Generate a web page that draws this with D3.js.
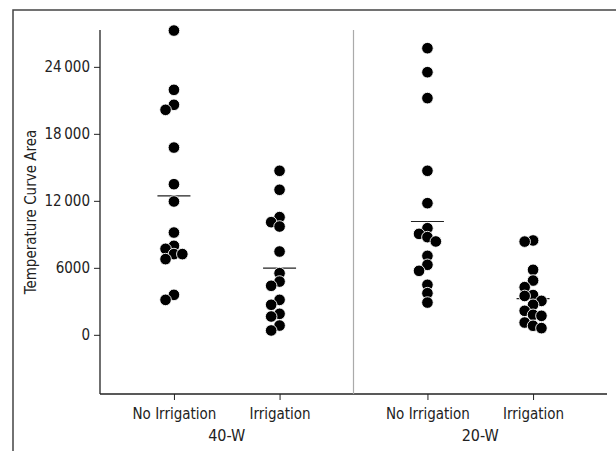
<!DOCTYPE html>
<html>
<head>
<meta charset="utf-8">
<script src="https://cdn.jsdelivr.net/npm/d3@7"></script>
<style>
  body { margin: 0; background: #fff; }
  svg { display: block; }
  text { font-family: "Liberation Sans Narrow", "DejaVu Sans Condensed", sans-serif; fill: #222; }
</style>
</head>
<body>
<svg width="616" height="451"></svg>
<script>
// data
var facets = ['40-W', '20-W'];
var treatments = ['No Irrigation', 'Irrigation'];

var noIrr40 = [27250, 21940, 20600, 20150, 16770, 13490, 11940, 9160, 7970, 7700, 7230, 7230, 6780, 3580, 3130];
var irr40 = [14690, 12990, 10540, 10090, 9700, 7460, 5520, 4770, 4390, 3130, 2690, 1880, 1640, 830, 390];
var noIrr20 = [25670, 23520, 21200, 14690, 11790, 9550, 9040, 8750, 8360, 7070, 6270, 5730, 4480, 3730, 2890];
var irr20 = [8450, 8350, 5820, 4860, 4270, 3560, 3480, 3040, 2690, 2150, 1790, 1700, 1100, 810, 600];

var groupMeans = [12450, 5970, 10150, 3250];
var yTicks = [0, 6000, 12000, 18000, 24000];
var yDomain = [-5300, 27300];

var groups = [
  {facet: '40-W', treatment: 'No Irrigation', values: noIrr40, mean: groupMeans[0]},
  {facet: '40-W', treatment: 'Irrigation', values: irr40, mean: groupMeans[1]},
  {facet: '20-W', treatment: 'No Irrigation', values: noIrr20, mean: groupMeans[2]},
  {facet: '20-W', treatment: 'Irrigation', values: irr20, mean: groupMeans[3]}
];

var svg = d3.select('svg');

// outer frame (figure is cropped from a boxed panel)
svg.append('rect')
    .attr('x', 13).attr('y', 10)
    .attr('width', 700).attr('height', 500)
    .attr('fill', 'none')
    .attr('stroke', '#444')
    .attr('stroke-width', 1.5);

var plotLeft = 100, plotRight = 607, plotTop = 30, plotBottom = 394;

var facetScale = d3.scaleBand().domain(facets).range([plotLeft, plotRight]);
var xInner = d3.scalePoint().domain(treatments).range([0, facetScale.bandwidth()]).padding(0.7);
var yScale = d3.scaleLinear().domain(yDomain).range([plotBottom, plotTop]);

function fmt(v) {
    var s = String(v);
    if (v >= 10000) s = s.slice(0, s.length - 3) + '\u2009' + s.slice(-3);
    return s;
}

// y axis
var yAxis = d3.axisLeft(yScale).tickValues(yTicks).tickFormat(fmt).tickSize(6).tickPadding(4);
var gy = svg.append('g')
    .attr('transform', 'translate(' + plotLeft + ',0)')
    .call(yAxis);
gy.select('.domain').remove();
gy.selectAll('text').style('font-size', '15px');
gy.selectAll('line').attr('stroke', '#222');

svg.append('line')
    .attr('x1', plotLeft).attr('x2', plotLeft)
    .attr('y1', plotTop).attr('y2', plotBottom)
    .attr('stroke', '#222').attr('stroke-width', 1.3);

svg.append('text')
    .text('Temperature Curve Area')
    .attr('transform', 'translate(36,' + ((plotTop + plotBottom) / 2) + ') rotate(-90)')
    .attr('text-anchor', 'middle')
    .style('font-size', '15px');

// x axis baseline
svg.append('line')
    .attr('x1', plotLeft).attr('x2', plotRight)
    .attr('y1', plotBottom).attr('y2', plotBottom)
    .attr('stroke', '#222').attr('stroke-width', 1.3);

// facet divider
svg.append('line')
    .attr('x1', facetScale('20-W')).attr('x2', facetScale('20-W'))
    .attr('y1', plotTop).attr('y2', plotBottom)
    .attr('stroke', '#aaa').attr('stroke-width', 1.2);

facets.forEach(function(f) {
    var xAxis = d3.axisBottom(xInner).tickSize(6).tickPadding(8);
    var gx = svg.append('g')
        .attr('transform', 'translate(' + facetScale(f) + ',' + plotBottom + ')')
        .call(xAxis);
    gx.select('.domain').remove();
    gx.selectAll('text').style('font-size', '15px');
    gx.selectAll('line').attr('stroke', '#222');

    svg.append('text')
        .text(f)
        .attr('x', facetScale(f) + facetScale.bandwidth() / 2)
        .attr('y', 441)
        .attr('text-anchor', 'middle')
        .style('font-size', '16px');
});

// simple swarm: push dots sideways when they would collide
function swarm(values) {
    var step = 8.4, minDist = 8.2;
    var placed = [];
    values.forEach(function(v) {
        var py = yScale(v);
        var cands = [0, -step, step, -2 * step, 2 * step];
        for (var i = 0; i < cands.length; i++) {
            var ok = placed.every(function(p) {
                return Math.hypot(p.dx - cands[i], p.y - py) >= minDist;
            });
            if (ok || i === cands.length - 1) {
                placed.push({v: v, y: py, dx: cands[i]});
                break;
            }
        }
    });
    return placed;
}

groups.forEach(function(g) {
    var cx = facetScale(g.facet) + xInner(g.treatment);

    svg.append('line')
        .attr('x1', cx - 16.5).attr('x2', cx + 16.5)
        .attr('y1', yScale(g.mean)).attr('y2', yScale(g.mean))
        .attr('stroke', '#222').attr('stroke-width', 1.2);

    svg.selectAll(null)
        .data(swarm(g.values))
        .enter().append('circle')
        .attr('cx', function(d) { return cx + d.dx; })
        .attr('cy', function(d) { return d.y; })
        .attr('r', 5.8)
        .attr('fill', '#000')
        .attr('stroke', '#fff')
        .attr('stroke-width', 0.9);
});
</script>
</body>
</html>
